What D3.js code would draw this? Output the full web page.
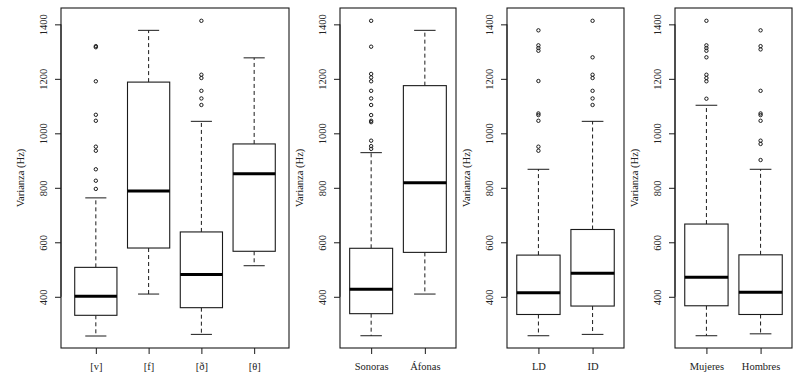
<!DOCTYPE html>
<html>
<head>
<meta charset="utf-8">
<script src="https://cdn.jsdelivr.net/npm/d3@7"></script>
<style>
  html, body { margin: 0; padding: 0; background: #fff; }
  svg { display: block; }
</style>
</head>
<body>
<svg id="chart" width="803" height="384"></svg>
<script>
// ---------- DATA ----------
const yTicks = [400, 600, 800, 1000, 1200, 1400];
const yTitle = "Varianza (Hz)";

// Panel 1: consonants
const consonantCategories = ["[v]", "[f]", "[ð]", "[θ]"];
// [lower whisker, Q1, median, Q3, upper whisker]
const consonantStats = [
  [256, 332, 402, 508, 763],
  [410, 579, 788, 1188, 1378],
  [262, 360, 482, 638, 1044],
  [514, 567, 852, 961, 1277]
];
const consonantOutliers = [
  [1320, 1316, 1191, 1068, 1046, 951, 936, 868, 826, 796],
  [],
  [1413, 1215, 1203, 1156, 1128, 1104],
  []
];

// Panel 2: voicing
const voicingCategories = ["Sonoras", "Áfonas"];
const voicingStats = [
  [257, 338, 428, 578, 929],
  [410, 563, 819, 1175, 1378]
];
const voicingOutliers = [
  [1413, 1318, 1218, 1205, 1191, 1156, 1128, 1104, 1067, 1046, 1041, 973, 953, 943],
  []
];

// Panel 3: LD / ID
const positionCategories = ["LD", "ID"];
const positionStats = [
  [257, 335, 415, 553, 868],
  [262, 366, 486, 647, 1044]
];
const positionOutliers = [
  [1378, 1323, 1313, 1303, 1192, 1073, 1067, 1046, 951, 936],
  [1413, 1279, 1215, 1203, 1156, 1128, 1104]
];

// Panel 4: sex
const sexCategories = ["Mujeres", "Hombres"];
const sexStats = [
  [257, 367, 472, 667, 1103],
  [264, 335, 417, 554, 868]
];
const sexOutliers = [
  [1413, 1323, 1313, 1303, 1279, 1215, 1203, 1191, 1127],
  [1378, 1320, 1308, 1156, 1073, 1067, 1046, 973, 961, 902]
];

// ---------- LAYOUT ----------
const plotTop = 8, plotBottom = 348;
const yDomain = [212, 1460];
const serif = "'Liberation Serif', 'Times New Roman', 'DejaVu Serif', serif";
const panels = [
  { left: 61,  right: 289, cats: consonantCategories, stats: consonantStats, outs: consonantOutliers },
  { left: 340, right: 456, cats: voicingCategories,   stats: voicingStats,   outs: voicingOutliers },
  { left: 507, right: 624, cats: positionCategories,  stats: positionStats,  outs: positionOutliers },
  { left: 675, right: 792, cats: sexCategories,       stats: sexStats,       outs: sexOutliers }
];

const svg = d3.select("#chart");
const y = d3.scaleLinear().domain(yDomain).range([plotBottom, plotTop]);
const ink = "#1a1a1a";
const textInk = "#222";

panels.forEach(p => {
  const n = p.cats.length;
  const ext = 0.04 * n;
  const x = d3.scaleLinear().domain([0.5 - ext, n + 0.5 + ext]).range([p.left, p.right]);
  const unit = x(1) - x(0);
  const boxW = 0.8 * unit;
  const capW = boxW / 2;
  const g = svg.append("g");

  // y axis
  const yAxis = d3.axisLeft(y).tickValues(yTicks).tickSize(6).tickPadding(3).tickFormat(d3.format("d"));
  const ga = g.append("g").attr("transform", `translate(${p.left},0)`).call(yAxis);
  ga.select(".domain").attr("d", `M0,${y(400)}V${y(1400)}`).attr("stroke", ink);
  ga.selectAll(".tick line").attr("stroke", ink);
  ga.selectAll(".tick text")
    .style("font-family", serif)
    .style("font-size", "10.5px")
    .style("fill", textInk)
    .attr("text-anchor", "middle")
    .attr("x", 0).attr("dy", 0)
    .attr("transform", `translate(-14,0) rotate(-90)`);

  // y title
  g.append("text")
    .attr("transform", `translate(${p.left - 37},${(plotTop + plotBottom) / 2}) rotate(-90)`)
    .attr("text-anchor", "middle")
    .style("font-family", serif)
    .style("font-size", "10.5px")
    .style("fill", textInk)
    .text(yTitle);

  // x axis
  const xAxis = d3.axisBottom(x).tickValues(d3.range(1, n + 1)).tickSize(6).tickPadding(9)
    .tickFormat((d) => p.cats[d - 1]);
  const gx = g.append("g").attr("transform", `translate(0,${plotBottom})`).call(xAxis);
  gx.select(".domain").remove();
  gx.selectAll(".tick line").attr("stroke", ink);
  gx.selectAll(".tick text")
    .style("font-family", serif)
    .style("font-size", "10.5px")
    .style("fill", textInk);

  // boxes
  p.stats.forEach((s, i) => {
    const cx = x(i + 1);
    const [lo, q1, med, q3, hi] = s;
    g.append("line").attr("x1", cx).attr("x2", cx).attr("y1", y(q3)).attr("y2", y(hi))
      .attr("stroke", ink).attr("stroke-dasharray", "4,3");
    g.append("line").attr("x1", cx).attr("x2", cx).attr("y1", y(q1)).attr("y2", y(lo))
      .attr("stroke", ink).attr("stroke-dasharray", "4,3");
    g.append("line").attr("x1", cx - capW / 2).attr("x2", cx + capW / 2).attr("y1", y(hi)).attr("y2", y(hi)).attr("stroke", ink);
    g.append("line").attr("x1", cx - capW / 2).attr("x2", cx + capW / 2).attr("y1", y(lo)).attr("y2", y(lo)).attr("stroke", ink);
    g.append("rect").attr("x", cx - boxW / 2).attr("width", boxW)
      .attr("y", y(q3)).attr("height", y(q1) - y(q3))
      .attr("fill", "#fff").attr("stroke", ink).attr("stroke-width", 1.1);
    g.append("line").attr("x1", cx - boxW / 2).attr("x2", cx + boxW / 2).attr("y1", y(med)).attr("y2", y(med))
      .attr("stroke", "#000").attr("stroke-width", 3);
    g.selectAll(null).data(p.outs[i]).enter().append("circle")
      .attr("cx", cx).attr("cy", d => y(d)).attr("r", 1.7)
      .attr("fill", "none").attr("stroke", ink).attr("stroke-width", 1);
  });

  // frame
  g.append("rect").attr("x", p.left).attr("y", plotTop).attr("width", p.right - p.left).attr("height", plotBottom - plotTop)
    .attr("fill", "none").attr("stroke", ink).attr("stroke-width", 1.1);
});
</script>
</body>
</html>
